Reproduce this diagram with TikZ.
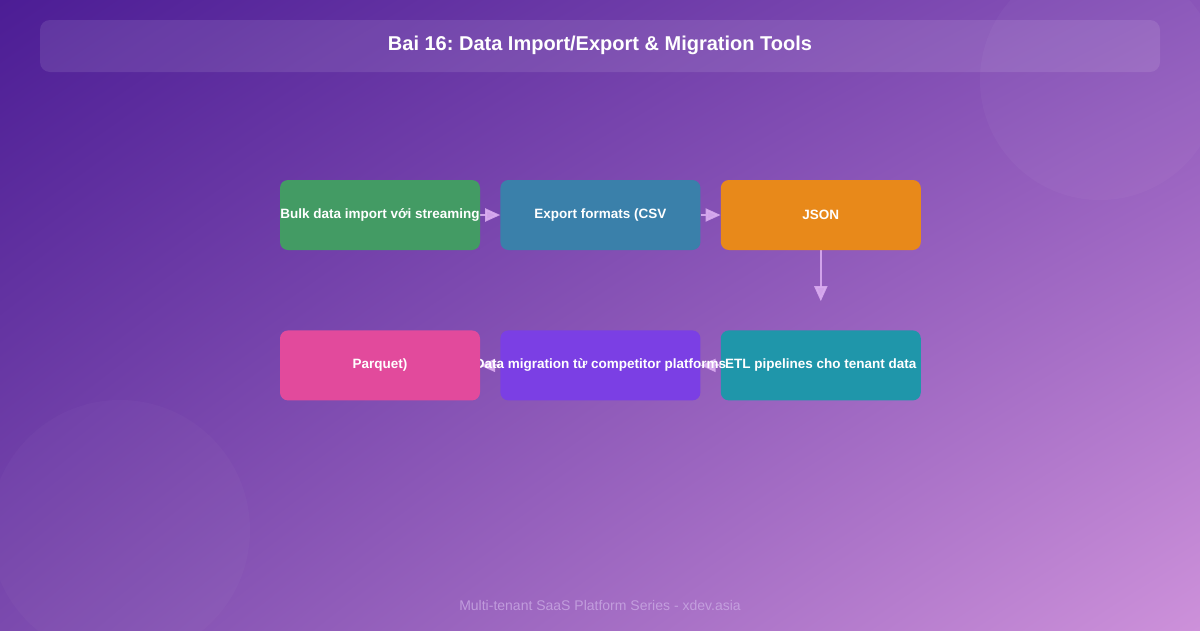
\documentclass[tikz,border=0pt]{standalone}
\usepackage{fontspec}
\setmainfont{Liberation Sans}
\usetikzlibrary{positioning}
\usetikzlibrary{arrows.meta}
\usetikzlibrary{shadings}

\definecolor{bgtl}{HTML}{4C1D95}
\definecolor{bgtr}{HTML}{8A55B9}
\definecolor{bgbl}{HTML}{7B4AAE}
\definecolor{bgbr}{HTML}{CD91DA}
\definecolor{bulkc}{HTML}{439B64}
\definecolor{exportc}{HTML}{3A80AA}
\definecolor{jsonc}{HTML}{E8891A}
\definecolor{etlc}{HTML}{1F96AA}
\definecolor{migrc}{HTML}{7B3FE4}
\definecolor{parqc}{HTML}{E24A9C}
\definecolor{flowc}{HTML}{D9ABF0}
\definecolor{footc}{HTML}{CDAEE6}

\pgfdeclarelayer{bg}
\pgfdeclarelayer{flows}
\pgfsetlayers{bg,flows,main}

\newcommand{\steptext}[1]{\makebox[0pt][c]{#1}}

\tikzset{
    stepbox/.style={rounded corners=8pt, minimum width=200pt, minimum height=70pt,
        inner sep=0pt, text=white, font=\bfseries\fontsize{13.5}{16}\selectfont},
    flow/.style={-{Triangle[length=15pt,width=13pt]}, line width=2pt, draw=flowc, opacity=0.9},
}

\frenchspacing
\begin{document}
\begin{tikzpicture}[x=1pt,y=-1pt]
                \useasboundingbox (0,0) rectangle (1200,630);
                %background
                \begin{pgfonlayer}{bg}
                \shade[upper left=bgtl, upper right=bgtr, lower left=bgbl, lower right=bgbr]
                    (0,0) rectangle (1200,630);
                \fill[white, opacity=0.03] (1100,80) circle (120pt);
                \fill[white, opacity=0.025] (120,530) circle (130pt);
                \end{pgfonlayer}
                %title
                \fill[white, opacity=0.1, rounded corners=10pt] (40,20) rectangle (1160,72);
                \node[text=white, font=\bfseries\fontsize{20}{24}\selectfont] (title) at (600,45)
                    {Bai 16: Data Import/Export \& Migration Tools};
                %steps
                \node[stepbox, fill=bulkc] (bulk) at (380,215) {\steptext{Bulk data import với streaming}};
                \node[stepbox, fill=exportc, right=20pt of bulk] (export) {\steptext{Export formats (CSV}};
                \node[stepbox, fill=jsonc, right=20pt of export] (json) {\steptext{JSON}};
                \node[stepbox, fill=etlc, below=80pt of json] (etl) {\steptext{ETL pipelines cho tenant data}};
                \node[stepbox, fill=migrc, left=20pt of etl] (migr) {\steptext{Data migration từ competitor platforms}};
                \node[stepbox, fill=parqc, left=20pt of migr] (parq) {\steptext{Parquet)}};
                %arrows
                \coordinate (jsonend) at ([yshift=-51pt]json.south);
                \begin{pgfonlayer}{flows}
                \draw[flow] (bulk) -- (export);
                \draw[flow] (export) -- (json);
                \draw[flow] (json) -- (jsonend);
                \draw[flow] (etl) -- (migr);
                \draw[flow] (migr) -- (parq);
                \end{pgfonlayer}
                %footer
                \node[text=footc, opacity=0.75, font=\fontsize{14}{17}\selectfont] (foot) at (600,605)
                    {Multi-tenant SaaS Platform Series - xdev.asia};
            \end{tikzpicture}
\end{document}
